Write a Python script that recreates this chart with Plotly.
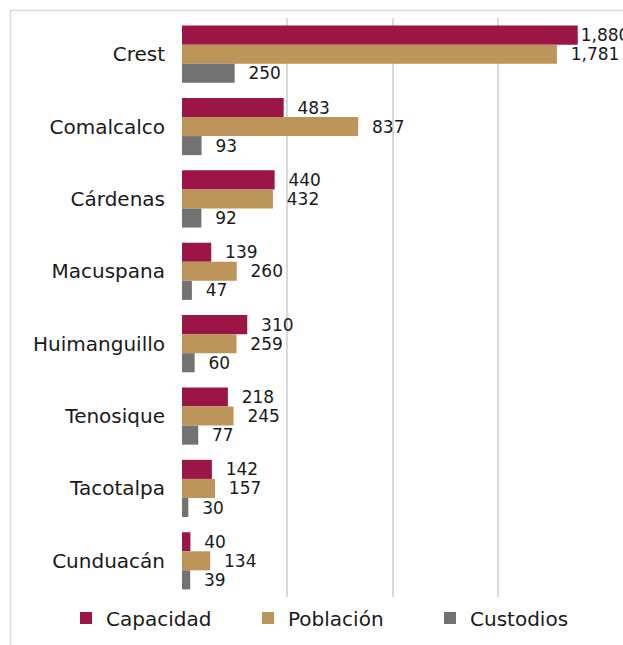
import plotly.graph_objects as go

categories = ["Crest", "Comalcalco", "Cárdenas", "Macuspana", "Huimanguillo",
              "Tenosique", "Tacotalpa", "Cunduacán"]
capacidad = [1880, 483, 440, 139, 310, 218, 142, 40]
poblacion = [1781, 837, 432, 260, 259, 245, 157, 134]
custodios = [250, 93, 92, 47, 60, 77, 30, 39]

series = [
    ("Capacidad", capacidad, "#9B1647"),
    ("Población", poblacion, "#BD955B"),
    ("Custodios", custodios, "#727272"),
]

W, H = 623, 645
ML, MR, MT, MB = 182, 20, 18, 48
PW, PH = W - ML - MR, H - MT - MB
NB = "\u00a0"
FONT = "DejaVu Sans"

fig = go.Figure()
for name, vals, color in series:
    texts = []
    for v in vals:
        pad = "" if v > 1850 else NB * 2
        texts.append(pad + f"{v:,}")
    fig.add_trace(go.Bar(
        y=categories, x=vals, name=name, orientation="h",
        marker=dict(color=color, line=dict(width=0)),
        text=texts, textposition="outside", cliponaxis=False,
        constraintext="none",
        textfont=dict(family=FONT, size=17, color="#1a1a1a"),
    ))

def px(xp):
    return (xp - ML) / PW

def py(yp):
    return (H - MB - yp) / PH

fig.update_layout(
    width=W, height=H,
    margin=dict(l=ML, r=MR, t=MT, b=MB, autoexpand=False),
    barmode="group", bargap=0.21, bargroupgap=0,
    plot_bgcolor="white", paper_bgcolor="white",
    font=dict(family=FONT, size=20, color="#1a1a1a"),
    xaxis=dict(range=[0, 2000], tickvals=[0, 500, 1000, 1500, 2000],
               showticklabels=False, showgrid=True, gridcolor="#d9d9d9",
               gridwidth=1.5, zeroline=False, showline=False, automargin=False),
    yaxis=dict(autorange="reversed", showgrid=False, showline=False,
               ticklabelstandoff=16, tickfont=dict(size=20), automargin=False),
    legend=dict(orientation="h", x=px(66), xanchor="left",
                y=py(618), yanchor="middle", font=dict(size=20),
                entrywidth=137, itemwidth=30),
    shapes=[dict(type="rect", xref="paper", yref="paper",
                 x0=px(10.5), x1=px(660), y0=py(680), y1=py(10.5),
                 line=dict(color="#d9d9d9", width=1.5), layer="below")],
    showlegend=True,
)

fig.write_html("out.html", config={"displayModeBar": False},
               post_script="document.body.style.margin='0';document.body.style.overflow='hidden';")
